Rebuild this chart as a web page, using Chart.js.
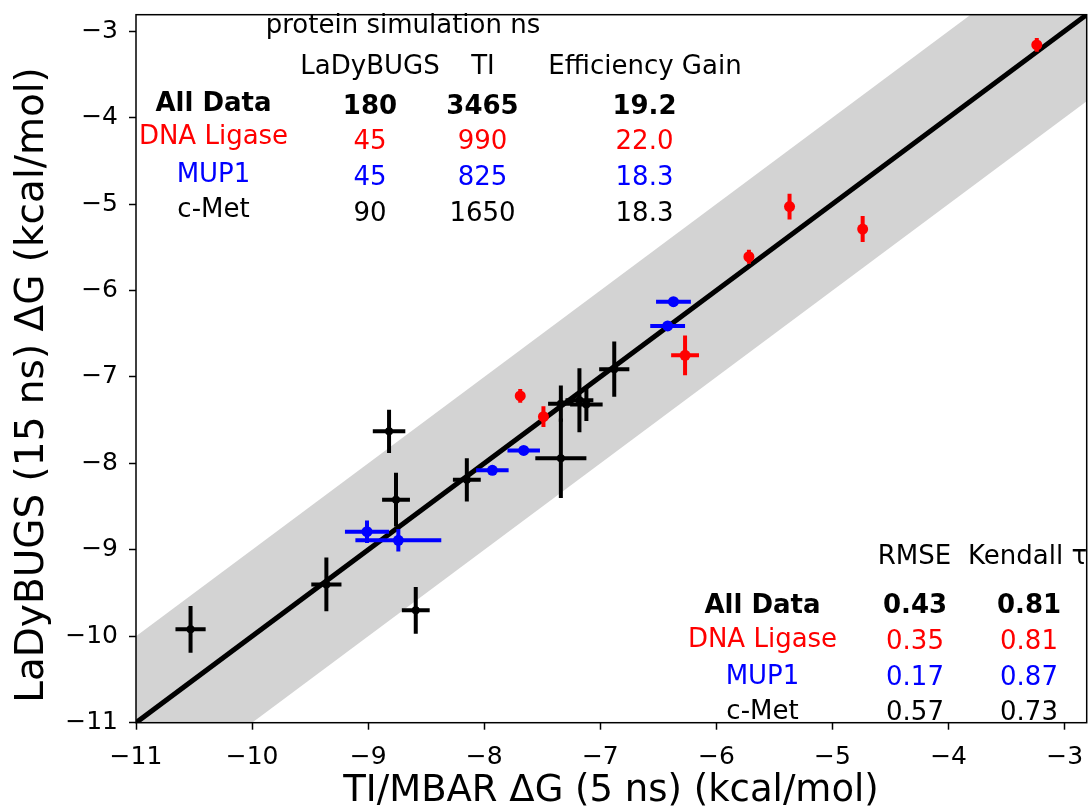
<!DOCTYPE html>
<html>
<head>
<meta charset="utf-8">
<script src="https://cdn.jsdelivr.net/npm/chart.js@4/dist/chart.umd.min.js"></script>
<style>
  html, body { margin: 0; padding: 0; background: #fff; }
  #wrap { width: 1088px; height: 812px; }
</style>
</head>
<body>
<div id="wrap"><canvas id="c" width="1088" height="812"></canvas></div>
<script>
// ---------------- data ----------------
const axisMin = -11;
const axisMax = -2.81;
const xTicks = [-11, -10, -9, -8, -7, -6, -5, -4, -3];
const yTicks = [-11, -10, -9, -8, -7, -6, -5, -4, -3];
const bandHalfWidth = 1;

// DNA Ligase (red)
const ligaseX    = [-3.24, -5.37, -4.74, -5.72, -6.27, -7.69, -7.49];
const ligaseY    = [-3.16, -5.03, -5.29, -5.61, -6.75, -7.22, -7.46];
const ligaseXerr = [0.03, 0.03, 0.03, 0.03, 0.12, 0.03, 0.03];
const ligaseYerr = [0.08, 0.15, 0.15, 0.08, 0.23, 0.08, 0.12];

// MUP1 (blue)
const mupX    = [-6.37, -6.42, -7.66, -7.93, -9.01, -8.74];
const mupY    = [-6.13, -6.41, -7.85, -8.08, -8.79, -8.89];
const mupXerr = [0.15, 0.15, 0.14, 0.14, 0.19, 0.37];
const mupYerr = [0.03, 0.03, 0.03, 0.03, 0.13, 0.13];

// c-Met (black)
const metX    = [-10.53, -9.36, -8.59, -8.76, -8.82, -8.15, -7.34, -7.34, -7.18, -7.12, -6.88];
const metY    = [-9.92, -9.40, -9.70, -8.42, -7.63, -8.19, -7.94, -7.31, -7.27, -7.32, -6.91];
const metXerr = [0.13, 0.13, 0.12, 0.12, 0.14, 0.12, 0.22, 0.11, 0.12, 0.14, 0.13];
const metYerr = [0.27, 0.31, 0.27, 0.31, 0.25, 0.25, 0.46, 0.21, 0.37, 0.19, 0.32];

// tables
const rowLabels   = ['All Data', 'DNA Ligase', 'MUP1', 'c-Met'];
const rowColors   = ['#000000', '#ff0000', '#0000ff', '#000000'];
const rowBold     = [true, false, false, false];
const ladybugsNs  = ['180', '45', '45', '90'];
const tiNs        = ['3465', '990', '825', '1650'];
const effGain     = ['19.2', '22.0', '18.3', '18.3'];
const rmseVals    = ['0.43', '0.35', '0.17', '0.57'];
const kendallVals = ['0.81', '0.81', '0.87', '0.73'];
const topTitle    = 'protein simulation ns';
const topHeaders  = ['LaDyBUGS', 'TI', 'Efficiency Gain'];
const botHeaders  = ['RMSE', 'Kendall \u03c4'];
const xTitle = 'TI/MBAR \u0394G (5 ns) (kcal/mol)';
const yTitle = 'LaDyBUGS (15 ns) \u0394G (kcal/mol)';

// ---------------- build ----------------
const toPts = (xs, ys) => xs.map((x, i) => ({ x: x, y: ys[i] }));
const bandX = [axisMin - 1, axisMax + 1];
const FONT = '"DejaVu Sans", "Liberation Sans", sans-serif';
const fmt = v => String(v).replace('-', '\u2212');

const errorBars = {
  id: 'errorBars',
  beforeDatasetDraw(chart, args) {
    const ds = chart.data.datasets[args.index];
    if (!ds.errX) return;
    const ctx = chart.ctx, a = chart.chartArea;
    const xs = chart.scales.x, ys = chart.scales.y;
    ctx.save();
    ctx.beginPath();
    ctx.rect(a.left, a.top, a.right - a.left, a.bottom - a.top);
    ctx.clip();
    ctx.strokeStyle = ds.backgroundColor;
    ctx.lineWidth = 4;
    ctx.lineCap = 'butt';
    ds.data.forEach((p, i) => {
      const ex = ds.errX[i], ey = ds.errY[i];
      const px = xs.getPixelForValue(p.x), py = ys.getPixelForValue(p.y);
      ctx.beginPath();
      ctx.moveTo(xs.getPixelForValue(p.x - ex), py);
      ctx.lineTo(xs.getPixelForValue(p.x + ex), py);
      ctx.moveTo(px, ys.getPixelForValue(p.y - ey));
      ctx.lineTo(px, ys.getPixelForValue(p.y + ey));
      ctx.stroke();
    });
    ctx.restore();
  }
};

const frameAndText = {
  id: 'frameAndText',
  afterDraw(chart) {
    const ctx = chart.ctx, a = chart.chartArea;
    ctx.save();
    ctx.strokeStyle = '#000';
    ctx.lineWidth = 1.5;
    ctx.strokeRect(a.left, a.top, a.right - a.left, a.bottom - a.top);

    ctx.textBaseline = 'alphabetic';
    ctx.textAlign = 'center';
    const put = (t, x, y, color, bold, size) => {
      ctx.fillStyle = color;
      ctx.font = (bold ? 'bold ' : '') + (size || 26) + 'px ' + FONT;
      ctx.fillText(t, x, y);
    };
    // axis titles
    put(xTitle, 611, 801, '#000', false, 37);
    ctx.save();
    ctx.translate(43, 385);
    ctx.rotate(-Math.PI / 2);
    put(yTitle, 0, 0, '#000', false, 39);
    ctx.restore();

    // top table
    put(topTitle, 403, 33, '#000');
    put(topHeaders[0], 370, 74, '#000');
    put(topHeaders[1], 483, 74, '#000');
    put(topHeaders[2], 645, 74, '#000');
    const labY = [111, 144, 181.5, 216.5];
    const numY = [114, 149, 185, 220.5];
    for (let i = 0; i < rowLabels.length; i++) {
      put(rowLabels[i], 213.5, labY[i], rowColors[i], rowBold[i]);
      put(ladybugsNs[i], 370, numY[i], rowColors[i], rowBold[i]);
      put(tiNs[i], 482.5, numY[i], rowColors[i], rowBold[i]);
      put(effGain[i], 644.5, numY[i], rowColors[i], rowBold[i]);
    }
    // bottom table
    put(botHeaders[0], 914.5, 564, '#000');
    ctx.textAlign = 'left';
    put(botHeaders[1], 968, 564, '#000');
    ctx.textAlign = 'center';
    const bLabY = [613, 647, 684, 719];
    const bNumY = [613, 649, 685, 720];
    for (let i = 0; i < rowLabels.length; i++) {
      put(rowLabels[i], 762.5, bLabY[i], rowColors[i], rowBold[i]);
      put(rmseVals[i], 915, bNumY[i], rowColors[i], rowBold[i]);
      put(kendallVals[i], 1029, bNumY[i], rowColors[i], rowBold[i]);
    }
    ctx.restore();
  }
};

const pointDs = (label, xs, ys, ex, ey, color, r, order) => ({
  type: 'scatter', label: label, data: toPts(xs, ys), errX: ex, errY: ey,
  backgroundColor: color, borderColor: color, pointRadius: r, pointBorderWidth: 0,
  showLine: false, order: order, clip: 0
});

const noPad = s => { s.paddingTop = 0; s.paddingBottom = 0; s.paddingLeft = 0; s.paddingRight = 0; };

const chart = new Chart(document.getElementById('c'), {
  type: 'scatter',
  data: {
    datasets: [
      pointDs('DNA Ligase', ligaseX, ligaseY, ligaseXerr, ligaseYerr, '#ff0000', 5.5, 0),
      pointDs('MUP1', mupX, mupY, mupXerr, mupYerr, '#0000ff', 5.5, 1),
      pointDs('c-Met', metX, metY, metXerr, metYerr, '#000000', 4, 2),
      { type: 'scatter', label: 'y = x', data: bandX.map(x => ({ x: x, y: x })),
        showLine: true, borderColor: '#000', borderWidth: 5, pointRadius: 0, order: 3, clip: 0 },
      { type: 'scatter', label: 'upper', data: bandX.map(x => ({ x: x, y: x + bandHalfWidth })),
        showLine: true, borderWidth: 0, borderColor: 'rgba(0,0,0,0)', pointRadius: 0, order: 4, clip: 0, fill: false },
      { type: 'scatter', label: 'lower', data: bandX.map(x => ({ x: x, y: x - bandHalfWidth })),
        showLine: true, borderWidth: 0, borderColor: 'rgba(0,0,0,0)', pointRadius: 0, order: 5, clip: 0,
        fill: '-1', backgroundColor: '#d3d3d3' }
    ]
  },
  options: {
    responsive: false,
    animation: false,
    devicePixelRatio: 1,
    layout: { autoPadding: false, padding: { left: 0, right: 1.3, top: 14.7, bottom: 0 } },
    plugins: { legend: { display: false }, tooltip: { enabled: false } },
    scales: {
      x: {
        type: 'linear', min: axisMin, max: axisMax,
        afterBuildTicks: s => { s.ticks = xTicks.map(v => ({ value: v })); },
        afterFit: s => { s.height = 89.3; noPad(s); },
        grid: { drawOnChartArea: false, drawTicks: true, tickLength: 7, tickColor: '#000', tickWidth: 1.5 },
        border: { display: false },
        ticks: { color: '#000', font: { family: FONT, size: 25 }, padding: 13, callback: fmt, maxRotation: 0 }
      },
      y: {
        type: 'linear', min: axisMin, max: axisMax,
        afterBuildTicks: s => { s.ticks = yTicks.map(v => ({ value: v })); },
        afterFit: s => { s.width = 136; noPad(s); },
        grid: { drawOnChartArea: false, drawTicks: true, tickLength: 7, tickColor: '#000', tickWidth: 1.5 },
        border: { display: false },
        ticks: { color: '#000', font: { family: FONT, size: 25 }, padding: 11, callback: fmt }
      }
    }
  },
  plugins: [errorBars, frameAndText]
});
</script>
</body>
</html>
